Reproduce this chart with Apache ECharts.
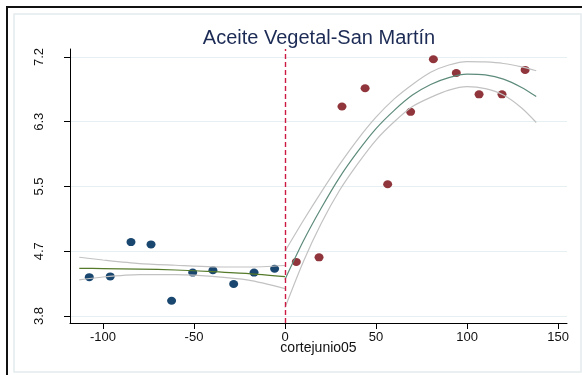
<!DOCTYPE html>
<html>
<head>
<meta charset="utf-8">
<script src="https://cdn.jsdelivr.net/npm/echarts@6/dist/echarts.min.js"></script>
<style>
html, body { margin: 0; padding: 0; background: #fff; }
#chart { width: 582px; height: 375px; }
</style>
</head>
<body>
<div id="chart"></div>
<script>
// observations, left of the cut (blue) and right of the cut (red)
var leftX = [-107.5, -96.0, -84.6, -73.6, -62.3, -50.7, -39.6, -28.2, -17.0, -5.7];
var leftY = [4.31, 4.32, 4.77, 4.74, 4.00, 4.37, 4.40, 4.22, 4.37, 4.42];
var rightX = [6.2, 18.7, 31.3, 44.0, 56.4, 69.0, 81.5, 94.1, 106.6, 119.2, 131.9];
var rightY = [4.51, 4.57, 6.55, 6.79, 5.53, 6.48, 7.17, 6.99, 6.71, 6.71, 7.03];

// fitted line and confidence band, left side
var leftFitX = [-113, -100, -80, -60, -40, -20, 0];
var leftFit = [4.426, 4.422, 4.416, 4.404, 4.383, 4.357, 4.316];
var leftUpper = [4.571, 4.535, 4.488, 4.466, 4.446, 4.443, 4.463];
var leftLower = [4.273, 4.312, 4.344, 4.342, 4.320, 4.270, 4.16];

// fitted line and confidence band, right side
var rightFitX = [0, 10, 20, 30, 40, 50, 60, 70, 80, 90, 100, 110, 120, 130, 138];
var rightFit = [4.28, 4.78, 5.22, 5.62, 5.96, 6.26, 6.50, 6.70, 6.84, 6.93, 6.975, 6.965, 6.91, 6.80, 6.68];
var rightUpper = [4.65, 5.05, 5.43, 5.79, 6.12, 6.41, 6.65, 6.84, 7.00, 7.095, 7.14, 7.135, 7.115, 7.07, 7.02];
var rightLower = [3.91, 4.51, 5.02, 5.45, 5.80, 6.11, 6.35, 6.55, 6.67, 6.765, 6.81, 6.785, 6.70, 6.53, 6.34];

var cutoff = 0;
var xTicks = [-100, -50, 0, 50, 100, 150];
var yTicks = [3.8, 4.65, 5.5, 6.35, 7.2];
var yTickLabels = ['3.8', '4.7', '5.5', '6.3', '7.2'];

function pairs(xs, ys) {
    var out = [];
    for (var i = 0; i < xs.length; i++) out.push([xs[i], ys[i]]);
    return out;
}

var font = 'Liberation Sans, Arial, sans-serif';
var bandColor = '#c2c2c2';

function lineSeries(xs, ys, color) {
    return {
        type: 'line',
        data: pairs(xs, ys),
        smooth: 0.25,
        symbol: 'none',
        silent: true,
        lineStyle: { color: color, width: 1.2 }
    };
}

var chart = echarts.init(document.getElementById('chart'));
chart.setOption({
    animation: false,
    backgroundColor: '#fff',
    textStyle: { fontFamily: font },
    title: {
        text: 'Aceite Vegetal-San Mart\u00edn',
        left: 314,
        top: 23,
        textAlign: 'center',
        textStyle: { color: '#1c2b55', fontSize: 20, fontWeight: 'normal', fontFamily: font }
    },
    graphic: [
        { type: 'rect', shape: { x: 7, y: 7, width: 600, height: 400 }, style: { fill: 'none', stroke: '#111', lineWidth: 2 }, silent: true },
        { type: 'rect', shape: { x: 14, y: 14, width: 567, height: 358 }, style: { fill: 'none', stroke: '#e4ecee', lineWidth: 1.5 }, silent: true }
    ],
    grid: { left: 70, right: 15, top: 49, bottom: 52, outerBoundsMode: 'none' },
    xAxis: {
        type: 'value',
        min: -118.1,
        max: 154.9,
        name: 'cortejunio05',
        nameLocation: 'middle',
        nameGap: 18,
        nameMoveOverlap: false,
        nameTextStyle: { color: '#111', fontSize: 14, fontFamily: font },
        axisLine: { onZero: false, lineStyle: { color: '#000', width: 1 } },
        axisTick: { show: true, length: 6, customValues: xTicks, lineStyle: { color: '#000' } },
        axisLabel: { customValues: xTicks, color: '#111', fontSize: 13, margin: 8 },
        splitLine: { show: false }
    },
    yAxis: {
        type: 'value',
        min: 3.708,
        max: 7.305,
        axisLine: { show: true, onZero: false, lineStyle: { color: '#000', width: 1 } },
        axisTick: { show: true, length: 6, customValues: yTicks, lineStyle: { color: '#000' } },
        axisLabel: {
            customValues: yTicks,
            rotate: 90,
            margin: 24,
            color: '#111',
            fontSize: 13,
            formatter: function (v) {
                for (var i = 0; i < yTicks.length; i++) {
                    if (Math.abs(yTicks[i] - v) < 1e-6) return yTickLabels[i];
                }
                return '';
            }
        },
        splitLine: { show: true, lineStyle: { color: '#e6eff1', width: 1.2 } }
    },
    series: [
        lineSeries(leftFitX, leftUpper, bandColor),
        lineSeries(leftFitX, leftLower, bandColor),
        lineSeries(rightFitX, rightUpper, bandColor),
        lineSeries(rightFitX, rightLower, bandColor),
        lineSeries(leftFitX, leftFit, '#557a2a'),
        lineSeries(rightFitX, rightFit, '#5e8c7b'),
        {
            type: 'scatter',
            data: pairs(leftX, leftY),
            symbol: 'circle',
            symbolSize: [9, 8],
            itemStyle: { color: '#1a476f', opacity: 1 },
            markLine: {
                silent: true,
                symbol: ['none', 'none'],
                label: { show: false },
                lineStyle: { color: '#cc1a42', type: [5, 3], width: 1.4, opacity: 1 },
                data: [{ xAxis: cutoff }]
            }
        },
        {
            type: 'scatter',
            data: pairs(rightX, rightY),
            symbol: 'circle',
            symbolSize: [9, 8],
            itemStyle: { color: '#90353b', opacity: 1 }
        }
    ]
});
</script>
</body>
</html>
